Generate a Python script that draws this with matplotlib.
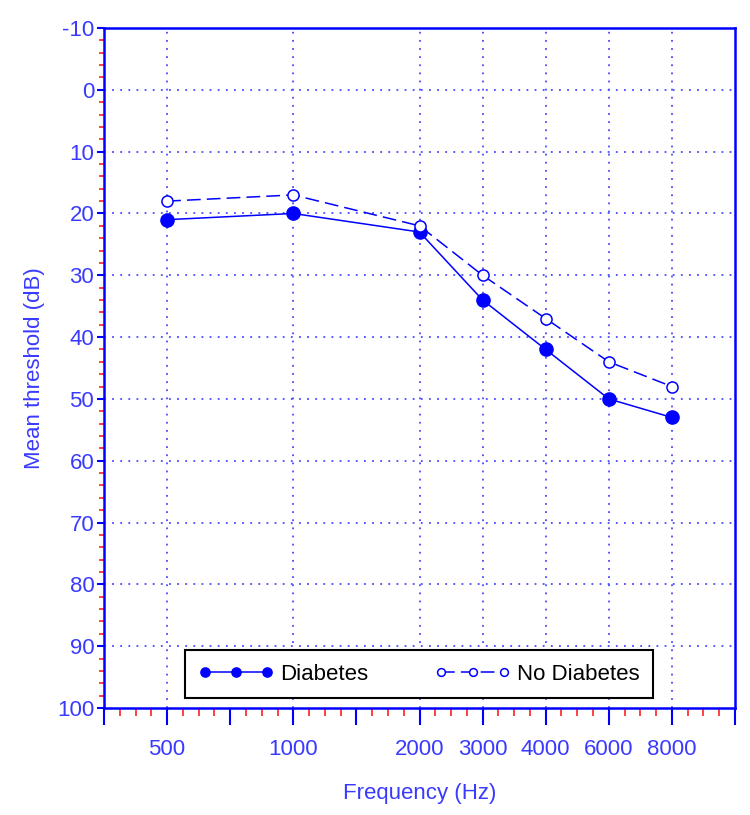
"""
Audiogram: mean hearing threshold by frequency, diabetes vs no diabetes.
"""

import matplotlib
matplotlib.use("Agg")
import matplotlib.pyplot as plt
import numpy as np

plt.rcParams['font.family'] = ['Liberation Sans', 'DejaVu Sans']
plt.rcParams['axes.unicode_minus'] = False

# data
freq_labels = ['500', '1000', '2000', '3000', '4000', '6000', '8000']
freq_pos = [0, 1, 2, 2.5, 3, 3.5, 4]      # octave position on the axis
diabetes = [21, 20, 23, 34, 42, 50, 53]
no_diabetes = [18, 17, 22, 30, 37, 44, 48]

BLUE = '#0000ff'
TEXT = '#3a3aff'
RED = '#ff2020'

fig = plt.figure(figsize=(7.5, 8.15), dpi=100)
ax = fig.add_axes([0.1387, 0.1313, 0.8413, 0.8343])

ax.plot(freq_pos, diabetes, color=BLUE, lw=1.1, marker='o', ms=9.5,
        mfc=BLUE, mec=BLUE, label='Diabetes', zorder=3)
ax.plot(freq_pos, no_diabetes, color=BLUE, lw=1.1, ls=(0, (9, 4)), marker='o',
        ms=8, mfc='white', mec=BLUE, mew=1.1, label='No Diabetes', zorder=3)

ax.set_xlim(-0.5, 4.5)
ax.set_ylim(100, -10)

# ticks
ax.set_xticks(np.arange(-0.5, 4.51, 0.5))
ax.set_xticklabels(['' if p not in freq_pos else freq_labels[freq_pos.index(p)]
                    for p in np.arange(-0.5, 4.51, 0.5)])
ax.set_xticks(np.arange(-0.5, 4.51, 0.125), minor=True)
ax.set_yticks(np.arange(-10, 101, 10))
ax.set_yticks(np.arange(-10, 101, 2), minor=True)

ax.tick_params(axis='x', which='major', direction='out', length=12, width=1.5,
               color=BLUE, labelcolor=TEXT, labelsize=16, pad=10)
ax.tick_params(axis='x', which='minor', direction='out', length=6, width=1.2,
               color=RED)
ax.tick_params(axis='y', which='major', direction='out', length=5, width=1.5,
               color=BLUE, labelcolor=TEXT, labelsize=16, pad=2)
ax.tick_params(axis='y', which='minor', direction='out', length=3.5, width=1.2,
               color=RED)

# grid at labelled positions only
for p in freq_pos:
    ax.axvline(p, color='#4a4aff', lw=1.3, ls=(0, (1, 3.5)), zorder=1)
for v in range(0, 100, 10):
    ax.axhline(v, color='#4a4aff', lw=1.3, ls=(0, (1, 3.5)), zorder=1)

for s in ax.spines.values():
    s.set_color(BLUE)
    s.set_linewidth(1.8)

ax.set_xlabel('Frequency (Hz)', color=TEXT, fontsize=16, labelpad=17)
ax.set_ylabel('Mean threshold (dB)', color=TEXT, fontsize=16, labelpad=9)

leg = ax.legend(ncol=2, loc='lower left', bbox_to_anchor=(0.128, 0.0147, 0.742, 0.071),
                mode='expand', numpoints=3, markerscale=0.7, handlelength=3.4,
                fancybox=False, framealpha=1, edgecolor='black', fontsize=16,
                borderpad=0.6, handletextpad=0.3, columnspacing=2.0,
                borderaxespad=0)
leg.get_frame().set_linewidth(1.5)

fig.savefig('out.png', dpi=100)
